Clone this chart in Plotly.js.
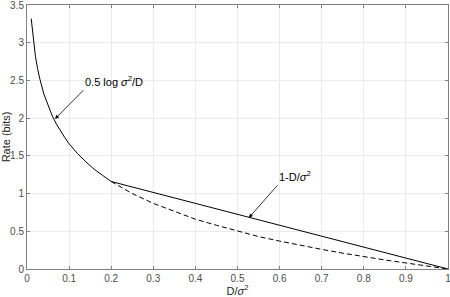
<!DOCTYPE html>
<html><head><meta charset="utf-8">
<script src="https://cdn.plot.ly/plotly-3.0.1.min.js"></script>
<style>html,body{margin:0;padding:0;background:#fff}#chart{width:450px;height:297px}</style>
</head><body><div id="chart"></div>
<script>
// Solid curve: log branch then straight line to (1,0)
const solidD = [0.01,0.015,0.02,0.025,0.03,0.04,0.05,0.06,0.07,0.08,0.09,0.10,0.12,0.14,0.16,0.18,0.20,1.0];
const solidR = [3.32,3.03,2.82,2.66,2.53,2.32,2.16,2.03,1.92,1.82,1.74,1.66,1.53,1.42,1.32,1.24,1.16,0.0];
// Dashed curve continuing log branch
const dashD = [0.20,0.25,0.30,0.35,0.40,0.45,0.50,0.55,0.60,0.65,0.70,0.75,0.80,0.85,0.90,0.95,1.0];
const dashR = [1.16,1.00,0.87,0.76,0.66,0.58,0.50,0.43,0.37,0.31,0.26,0.21,0.16,0.12,0.08,0.04,0.0];
const xTicks = [0,0.1,0.2,0.3,0.4,0.5,0.6,0.7,0.8,0.9,1];
const yTicks = [0,0.5,1,1.5,2,2.5,3,3.5];
const ann1 = {text:'0.5 log <i>σ</i><sup>2</sup>/D', x:0.0665, y:1.99, tailX:0.134, tailY:2.37};
const ann2 = {text:'1-D/<i>σ</i><sup>2</sup>', x:0.527, y:0.68, tailX:0.595, tailY:1.11};

const font = {family:'Liberation Sans, Arial, sans-serif', size:10, color:'#4d4d4d'};
const traces = [
  {x:solidD, y:solidR, mode:'lines', line:{color:'#000', width:1}, hoverinfo:'skip'},
  {x:dashD, y:dashR, mode:'lines', line:{color:'#000', width:1, dash:'5px,3px'}, hoverinfo:'skip'}
];
function mkAnn(a){
  return {x:a.x, y:a.y, ax:a.tailX, ay:a.tailY, axref:'x', ayref:'y', xref:'x', yref:'y',
    text:a.text, showarrow:true, arrowhead:2, arrowsize:1, arrowwidth:0.8, arrowcolor:'#000',
    xanchor:'left', yanchor:'bottom', font:{family:'Liberation Sans, Arial, sans-serif', size:11, color:'#000'}};
}
const axBase = {showline:true, linecolor:'#808080', linewidth:1, mirror:'ticks', ticks:'inside', ticklen:3,
  tickcolor:'#808080', showgrid:true, gridcolor:'#ebebeb', gridwidth:1, zeroline:false, tickfont:font,
  ticklabeloverflow:'allow'};
const layout = {
  width:450, height:297, margin:{l:27, r:2, t:4.5, b:28}, showlegend:false,
  paper_bgcolor:'#fff', plot_bgcolor:'#fff', font:font,
  xaxis:Object.assign({}, axBase, {range:[0,1], tickvals:xTicks, ticktext:xTicks.map(String),
    title:{text:'D/<i>σ</i><sup>2</sup>', font:{family:'Liberation Sans, Arial, sans-serif', size:11, color:'#262626'}, standoff:2}}),
  yaxis:Object.assign({}, axBase, {range:[0,3.5], tickvals:yTicks, ticktext:yTicks.map(String),
    title:{text:'Rate (bits)', font:{family:'Liberation Sans, Arial, sans-serif', size:11, color:'#262626'}, standoff:4}}),
  annotations:[mkAnn(ann1), mkAnn(ann2)]
};
Plotly.newPlot('chart', traces, layout, {displayModeBar:false, staticPlot:true});
</script></body></html>
